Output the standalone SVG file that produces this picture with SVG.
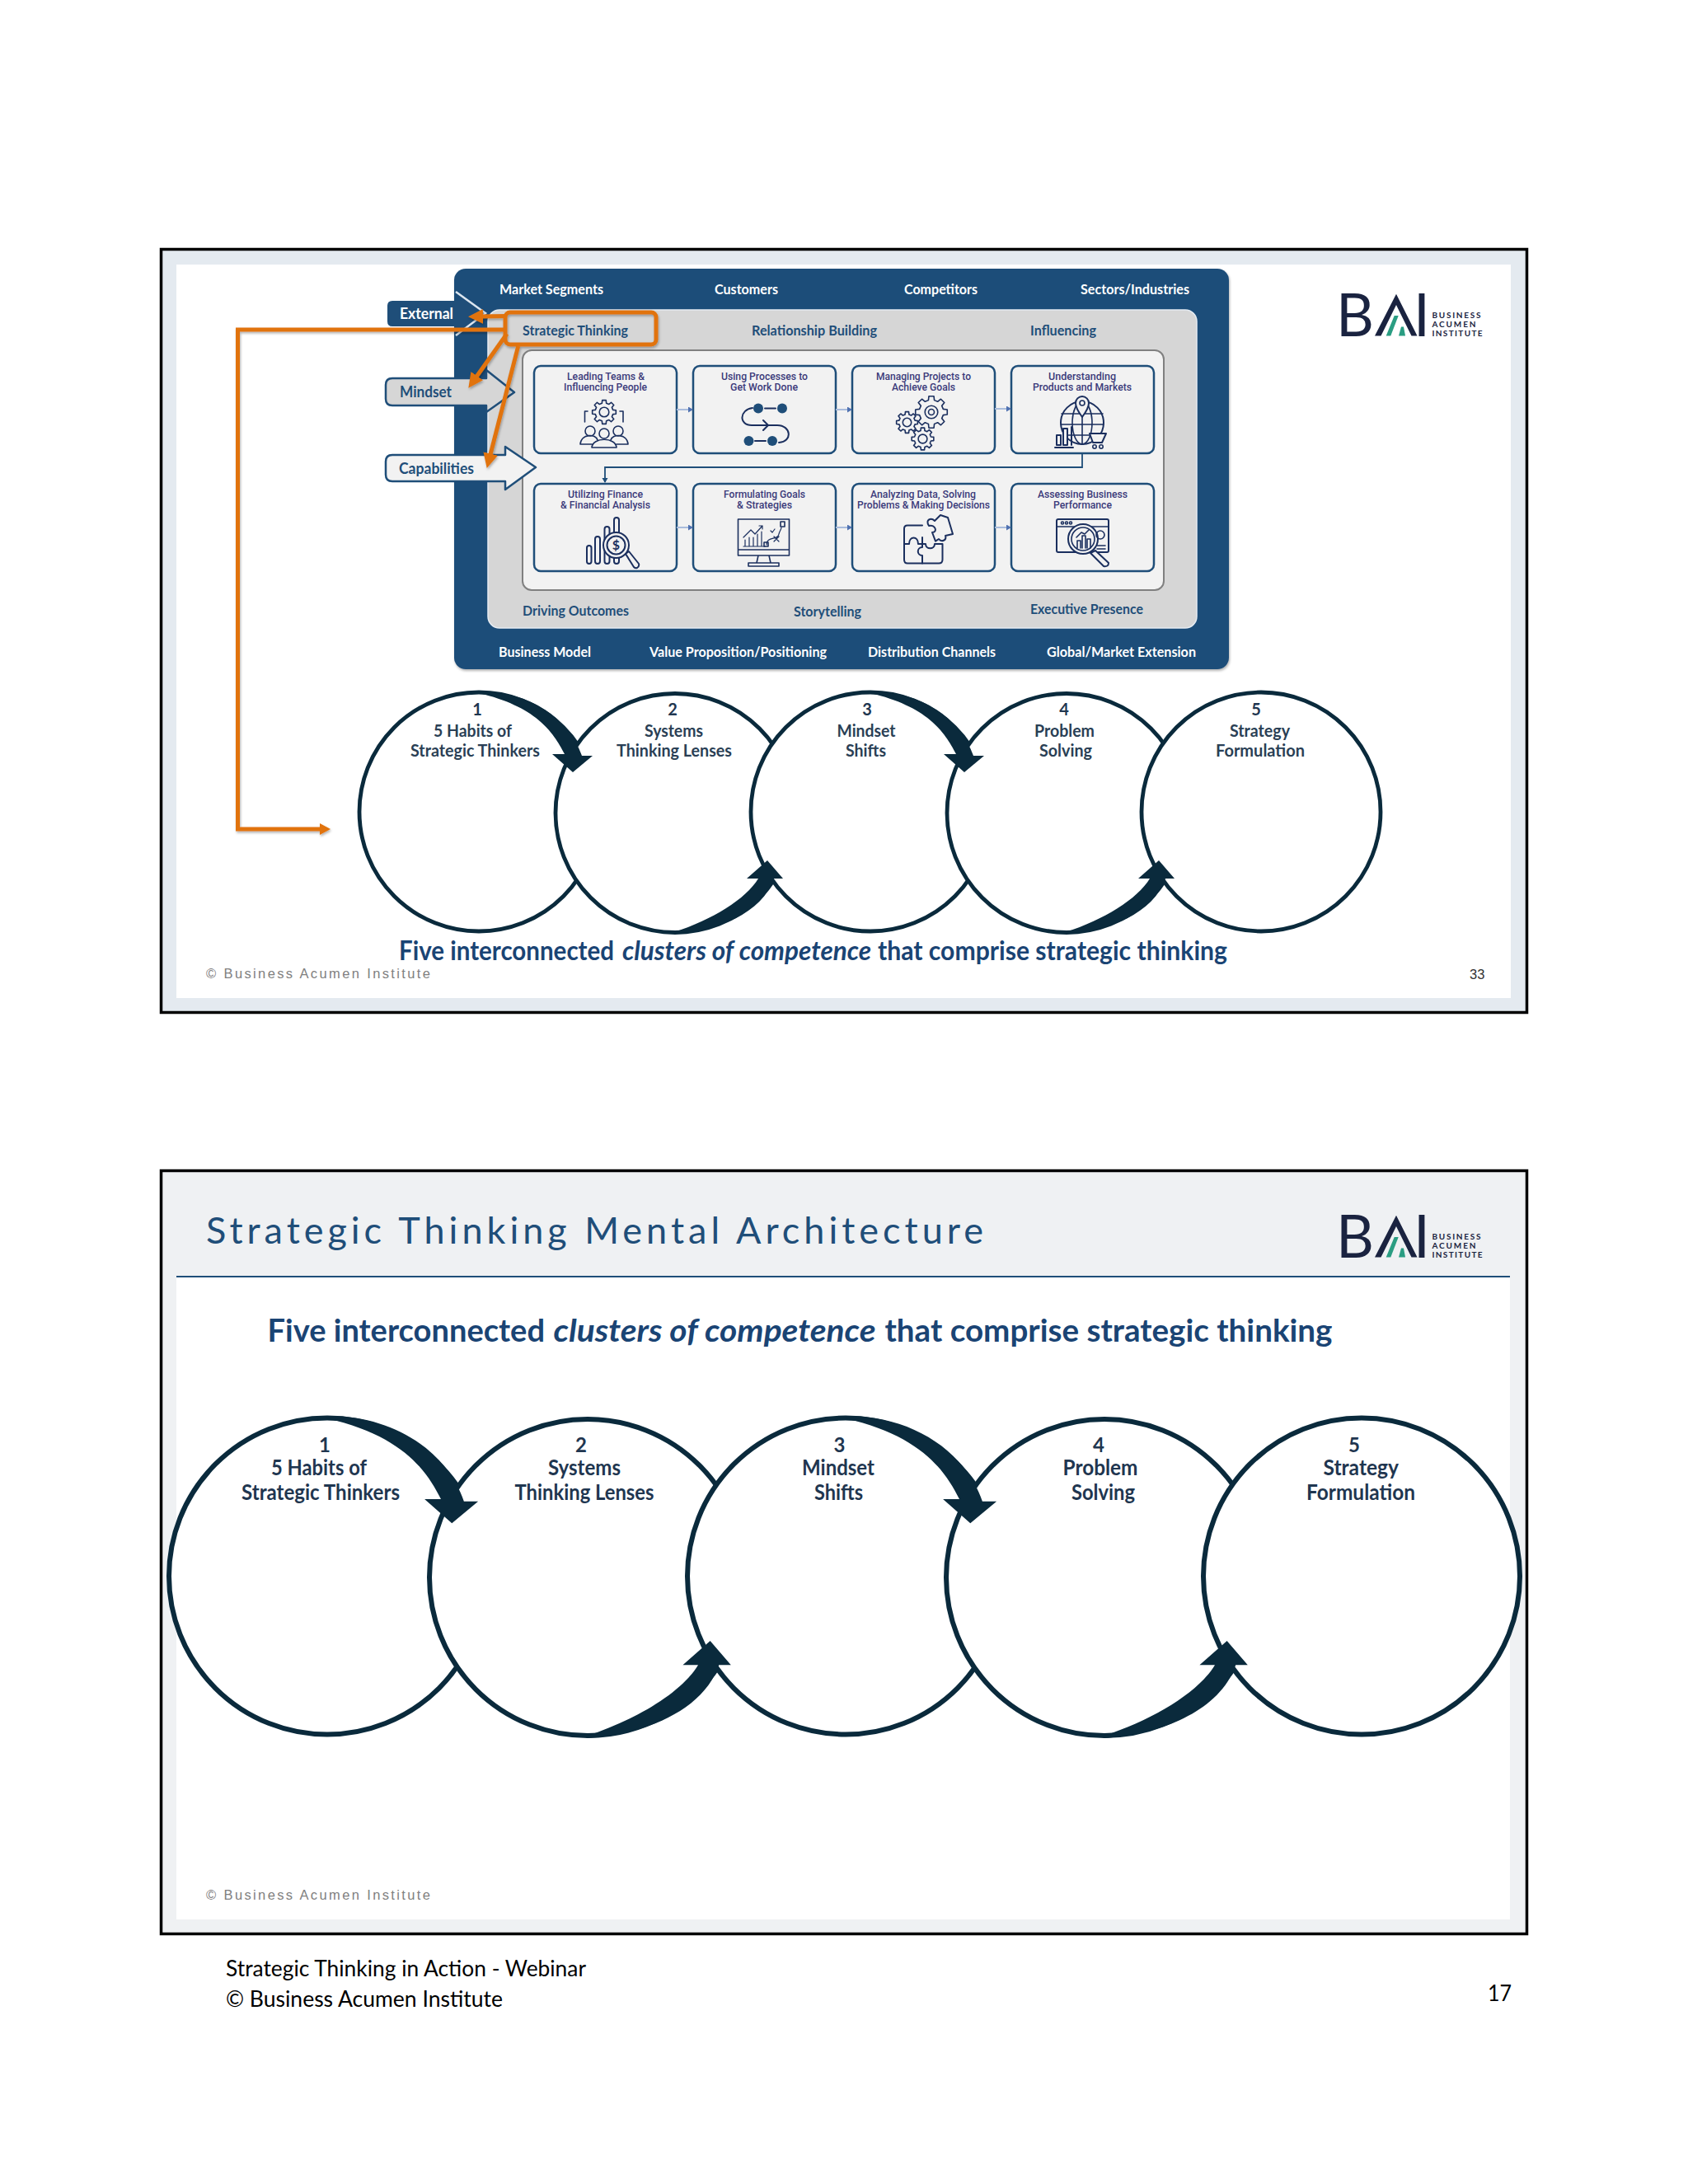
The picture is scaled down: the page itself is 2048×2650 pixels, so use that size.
<svg xmlns="http://www.w3.org/2000/svg" width="2048" height="2650" viewBox="0 0 2048 2650">
<style>
text{font-family:"Lato","Liberation Sans",sans-serif}
.slide{stroke:#000;stroke-width:3.5}
.wt{fill:#fff;font-size:17px;font-weight:700}
.bl{fill:#1f4e79;font-size:17px;font-weight:700}
.tag{font-size:18px;font-weight:700}
.card{fill:#f2f2f2;stroke:#1f4e79;stroke-width:2.5}
.ct{font-family:"Roboto","Liberation Sans",sans-serif;font-size:12px;font-weight:500;fill:#3b3a7a}
.ic{fill:none;stroke:#1b2f5e;stroke-width:2;stroke-linecap:round;stroke-linejoin:round}
.sc{fill:none;stroke:#1b2f5e;stroke-width:1.6;stroke-linecap:round;stroke-linejoin:round}
.df{fill:#1f4e79}
.big{fill:#fff;stroke:#0a2a3c}
.n1{font-size:20px;font-weight:700;fill:#1f3650;text-anchor:middle}
.t1{font-size:20px;font-weight:700;fill:#2a3f55}
.n2{font-size:24px;font-weight:700;fill:#1f3650;text-anchor:middle}
.t2{font-size:26px;font-weight:700;fill:#1f3650}
.cap{font-weight:700;fill:#1a4474}
.foot{font-family:"Liberation Sans",Arial,sans-serif;font-size:16.5px;fill:#808080}
.pg{font-size:27px;fill:#000}
.or{fill:none;stroke:#e1730f;stroke-width:5}
.thin{fill:none;stroke:#a9bcdc;stroke-width:2}
.lk{fill:none;stroke:#1f4e79;stroke-width:1.8}
.cur{fill:#0a2a3c}
.lg{fill:#1a2340;font-size:10px;font-weight:700}
.lgb{fill:#1a2340;font-family:"Lato",sans-serif;font-size:71px;font-weight:400}
.lgm{fill:#1a2340}
.lgg{fill:#2a9d82}
</style>
<defs>
<marker id="mo" markerUnits="userSpaceOnUse" markerWidth="20" markerHeight="20" refX="6" refY="9" orient="auto"><path d="M0,0 L18,9 L0,18 Z" fill="#e1730f"/></marker>
<marker id="ms" markerUnits="userSpaceOnUse" markerWidth="16" markerHeight="16" refX="3" refY="7" orient="auto"><path d="M0,0 L13,7 L0,14 Z" fill="#e1730f"/></marker>
<marker id="mc" markerUnits="userSpaceOnUse" markerWidth="8" markerHeight="8" refX="5" refY="3.5" orient="auto"><path d="M0,0 L6,3.5 L0,7 Z" fill="#4f71b0"/></marker>
<marker id="ml" markerUnits="userSpaceOnUse" markerWidth="8" markerHeight="8" refX="5" refY="3.5" orient="auto"><path d="M0,0 L6,3.5 L0,7 Z" fill="#1f4e79"/></marker>
<filter id="sh" x="-5%" y="-5%" width="110%" height="110%"><feDropShadow dx="1" dy="2" stdDeviation="1.5" flood-color="#000" flood-opacity=".3"/></filter>
<path id="arrD" d="M0,-146 C59,-147 109,-115 125,-68 L138,-68 L114,-48 L89,-70 L104,-70 C90,-98 68,-128 0,-144 Z"/>
<path id="arrU" d="M-1,147 C51,144 106,122 120,80 L131,80 L112,58 L87,80 L101,80 C86,105 45,130 -1,145 Z"/>
<g id="gear"><polygon vector-effect="non-scaling-stroke" points="7.37,-1.84 9.88,-1.56 9.88,1.56 7.37,1.84 6.51,3.91 8.09,5.88 5.88,8.09 3.91,6.51 1.84,7.37 1.56,9.88 -1.56,9.88 -1.84,7.37 -3.91,6.51 -5.88,8.09 -8.09,5.88 -6.51,3.91 -7.37,1.84 -9.88,1.56 -9.88,-1.56 -7.37,-1.84 -6.51,-3.91 -8.09,-5.88 -5.88,-8.09 -3.91,-6.51 -1.84,-7.37 -1.56,-9.88 1.56,-9.88 1.84,-7.37 3.91,-6.51 5.88,-8.09 8.09,-5.88 6.51,-3.91"/><circle vector-effect="non-scaling-stroke" r="4"/></g>
</defs>

<rect width="2048" height="2650" fill="#fff"/>

<g id="slide-33">
<rect class="slide" x="195.5" y="302.5" width="1657" height="926" fill="#e4eaf0"/>
<rect x="214" y="321" width="1619" height="890" fill="#fff"/>
</g>

<g id="panel-external"><rect x="551" y="326" width="940" height="486" rx="14" fill="#1f4e79" filter="url(#sh)"/>
<text class="wt" x="606" y="357" textLength="126" lengthAdjust="spacingAndGlyphs">Market Segments</text>
<text class="wt" x="867" y="357" textLength="77" lengthAdjust="spacingAndGlyphs">Customers</text>
<text class="wt" x="1097" y="357" textLength="89" lengthAdjust="spacingAndGlyphs">Competitors</text>
<text class="wt" x="1311" y="357" textLength="132" lengthAdjust="spacingAndGlyphs">Sectors/Industries</text>
<text class="wt" x="605" y="797" textLength="112" lengthAdjust="spacingAndGlyphs">Business Model</text>
<text class="wt" x="788" y="797" textLength="215" lengthAdjust="spacingAndGlyphs">Value Proposition/Positioning</text>
<text class="wt" x="1053" y="797" textLength="155" lengthAdjust="spacingAndGlyphs">Distribution Channels</text>
<text class="wt" x="1270" y="797" textLength="181" lengthAdjust="spacingAndGlyphs">Global/Market Extension</text>
</g>

<g id="panel-mindset"><rect x="592" y="376" width="860" height="386" rx="14" fill="#d6d6d6" stroke="#e6ecf2" stroke-width="1.5"/>
<text class="bl" x="634" y="407" textLength="128" lengthAdjust="spacingAndGlyphs">Strategic Thinking</text>
<text class="bl" x="912" y="407" textLength="152" lengthAdjust="spacingAndGlyphs">Relationship Building</text>
<text class="bl" x="1250" y="407" textLength="80" lengthAdjust="spacingAndGlyphs">Influencing</text>
<text class="bl" x="634" y="747" textLength="129" lengthAdjust="spacingAndGlyphs">Driving Outcomes</text>
<text class="bl" x="963" y="748" textLength="82" lengthAdjust="spacingAndGlyphs">Storytelling</text>
<text class="bl" x="1250" y="745" textLength="137" lengthAdjust="spacingAndGlyphs">Executive Presence</text>
</g>

<g id="panel-capabilities"><rect x="634" y="425" width="778" height="291" rx="11" fill="#f2f2f2" stroke="#808080" stroke-width="2"/></g>

<g id="tag-external"><path d="M552,354 L589,380 L553,407 L560,396 H476 Q470,396 470,390 V371 Q470,365 476,365 H560 Z" fill="#1f4e79"/>
<path d="M553,354 L589,380 L553,407" fill="none" stroke="#dce6f0" stroke-width="2.5"/>
<text class="tag" x="485" y="387" fill="#fff" textLength="65" lengthAdjust="spacingAndGlyphs">External</text></g>

<g id="tag-mindset"><path d="M590,449 L624,476 L590,500 L590,492 H476 Q468,492 468,484 V467 Q468,459 476,459 H590 Z" fill="#d6d6d6" stroke="#1f4e79" stroke-width="2.5" stroke-linejoin="round"/>
<text class="tag" x="485" y="482" fill="#1f4e79" textLength="63" lengthAdjust="spacingAndGlyphs">Mindset</text></g>

<g id="tag-capabilities"><path d="M613,542 L650,567 L613,594 L613,584 H476 Q468,584 468,576 V560 Q468,552 476,552 H613 Z" fill="#f2f2f2" stroke="#1f4e79" stroke-width="2.5" stroke-linejoin="round"/>
<text class="tag" x="484" y="575" fill="#1f4e79" textLength="91" lengthAdjust="spacingAndGlyphs">Capabilities</text></g>

<g id="card-leading"><rect class="card" x="648" y="444" width="173" height="106" rx="8"/>
<text class="ct" x="688" y="460.5" textLength="94" lengthAdjust="spacingAndGlyphs">Leading Teams &amp;</text>
<text class="ct" x="684" y="473.5" textLength="101" lengthAdjust="spacingAndGlyphs">Influencing People</text>
<use href="#gear" class="sc" transform="translate(733,500) scale(1.45)"/>
<path class="sc" d="M713,499 H709.5 V512 M752,499 H756 V512"/>
<circle class="sc" cx="716" cy="523" r="6"/><circle class="sc" cx="733" cy="526" r="6"/><circle class="sc" cx="750" cy="523" r="6"/>
<path class="sc" d="M704,539 C705,526 723,526 725,534 M762,539 C761,526 743,526 741,534 M704,539 H718 M748,539 H762 M718,543 C719,530 747,530 748,543 Z"/></g>

<g id="card-processes"><rect class="card" x="841" y="444" width="173" height="106" rx="8"/>
<text class="ct" x="875" y="460.5" textLength="105" lengthAdjust="spacingAndGlyphs">Using Processes to</text>
<text class="ct" x="886" y="473.5" textLength="82" lengthAdjust="spacingAndGlyphs">Get Work Done</text>
<circle class="df" cx="920" cy="495.5" r="6"/><circle class="df" cx="949" cy="495.5" r="6"/><circle class="df" cx="908.5" cy="535" r="6"/><circle class="df" cx="937" cy="535" r="6"/>
<path class="ic" d="M928,495.5 H941 M916,535 H929 M913,495 C897,497 896,516 912,516 H943 C960,516 962,536 945,537 M926,510 L932,516 L926,522"/></g>

<g id="card-projects"><rect class="card" x="1034" y="444" width="173" height="106" rx="8"/>
<text class="ct" x="1063" y="460.5" textLength="115" lengthAdjust="spacingAndGlyphs">Managing Projects to</text>
<text class="ct" x="1082" y="473.5" textLength="77" lengthAdjust="spacingAndGlyphs">Achieve Goals</text>
<use href="#gear" class="sc" transform="translate(1130,500) scale(1.95)"/><circle class="sc" cx="1130" cy="500" r="3.5"/>
<use href="#gear" class="sc" transform="translate(1100.5,512.5) scale(1.3)"/>
<use href="#gear" class="sc" transform="translate(1119.5,532.5) scale(1.35)"/></g>

<g id="card-products"><rect class="card" x="1227" y="444" width="173" height="106" rx="8"/>
<text class="ct" x="1272" y="460.5" textLength="82" lengthAdjust="spacingAndGlyphs">Understanding</text>
<text class="ct" x="1253" y="473.5" textLength="120" lengthAdjust="spacingAndGlyphs">Products and Markets</text>
<circle class="ic" cx="1313" cy="513" r="26"/><ellipse class="sc" cx="1313" cy="513" rx="12" ry="26"/>
<path class="sc" d="M1313,487 V539 M1288,502 H1338 M1287,515 H1339 M1292,528 H1334"/>
<path class="ic" style="fill:#f2f2f2" d="M1313,506 C1307,498 1305,494 1305,489 A8,8 0 0 1 1321,489 C1321,494 1319,498 1313,506 Z"/><circle class="sc" cx="1313" cy="489" r="3"/>
<path class="ic" style="fill:#f2f2f2" d="M1282,528 h5 v12 h-5 Z M1290,520 h5 v20 h-5 Z"/><path class="ic" d="M1280,543 H1302 M1300,518 V540"/>
<path class="ic" style="fill:#f2f2f2" d="M1322,526 H1342 L1337,537 H1326 Z"/><circle class="sc" cx="1328" cy="542" r="2.2"/><circle class="sc" cx="1336" cy="542" r="2.2"/></g>

<g id="card-finance"><rect class="card" x="648" y="587" width="173" height="106" rx="8"/>
<text class="ct" x="689" y="604" textLength="91" lengthAdjust="spacingAndGlyphs">Utilizing Finance</text>
<text class="ct" x="680" y="617" textLength="109" lengthAdjust="spacingAndGlyphs">&amp; Financial Analysis</text>
<g class="ic"><rect x="712" y="662" width="5.5" height="22" rx="2.7"/><rect x="722" y="651" width="6" height="33" rx="3"/><rect x="733.5" y="639" width="6" height="45" rx="3"/><rect x="745" y="628" width="6" height="56" rx="3"/></g>
<circle class="ic" style="fill:#f2f2f2" cx="747.5" cy="661.5" r="15.5"/><circle class="ic" cx="747.5" cy="661.5" r="11"/>
<text x="747.5" y="667" text-anchor="middle" font-size="16" font-weight="700" fill="#1b2f5e">$</text>
<path class="ic" style="fill:#f2f2f2" d="M759,672 L763,669 L775,684 Q776,687 773,689 Q771,690 769,688 Z"/></g>

<g id="card-goals"><rect class="card" x="841" y="587" width="173" height="106" rx="8"/>
<text class="ct" x="878" y="604" textLength="99" lengthAdjust="spacingAndGlyphs">Formulating Goals</text>
<text class="ct" x="894" y="617" textLength="67" lengthAdjust="spacingAndGlyphs">&amp; Strategies</text>
<path class="sc" d="M895.5,630 H957.5 V674 H895.5 Z M895.5,667 H957.5 M920,674 L918,683 M933,674 L935,683 M908,683 H945 V687 H908 Z"/>
<path class="sc" style="stroke-width:1.2" d="M902,652 L911,643 L916,648 L925,638 M921,638 H925 V642 M902,663 H928 M904,655 V663 M909,652 V663 M914,652 V663 M919,648 V663 M924,645 V663 M930,661 C930,650 944,656 945,648 C946,644 948,642 948,640 M935,644 L937,646 L940,642 M939,651 L945,657 M945,651 L939,657"/>
<rect class="sc" x="947" y="633" width="5" height="6"/><rect class="sc" x="927" y="658" width="5" height="5"/></g>

<g id="card-analyzing"><rect class="card" x="1034" y="587" width="173" height="106" rx="8"/>
<text class="ct" x="1056" y="604" textLength="128" lengthAdjust="spacingAndGlyphs">Analyzing Data, Solving</text>
<text class="ct" x="1040" y="617" textLength="161" lengthAdjust="spacingAndGlyphs">Problems &amp; Making Decisions</text>
<path class="ic" d="M1119,637.5 H1101 Q1097,637.5 1097,641.5 V679 Q1097,683.5 1101,683.5 H1139 Q1143.5,683.5 1143.5,679 V660 H1134 C1134,667 1123,667 1123,660 H1119 V652"/>
<path class="ic" d="M1097,660 H1103 C1103,650 1114,650 1114,660 H1119 V664 C1112,664 1112,674 1119,674 V683.5"/>
<path class="ic" d="M1127,638 C1122,630 1130,628 1134,632 L1141,625 L1150,628 L1156,648 L1147,650 C1149,656 1142,658 1139,654 L1135,656.7 L1131,646 C1138,646 1135,636 1127,638 Z"/></g>

<g id="card-assessing"><rect class="card" x="1227" y="587" width="173" height="106" rx="8"/>
<text class="ct" x="1259" y="604" textLength="109" lengthAdjust="spacingAndGlyphs">Assessing Business</text>
<text class="ct" x="1278" y="617" textLength="71" lengthAdjust="spacingAndGlyphs">Performance</text>
<rect class="ic" x="1282" y="630" width="63" height="40" rx="2"/><path class="sc" d="M1282,639 H1345 M1331,662 H1341 M1331,666 H1341"/>
<circle class="sc" cx="1289" cy="634.5" r="1.5"/><circle class="sc" cx="1294" cy="634.5" r="1.5"/><circle class="sc" cx="1299" cy="634.5" r="1.5"/>
<circle class="ic" style="fill:#f2f2f2" cx="1314" cy="654" r="18"/><circle class="sc" cx="1314" cy="654" r="14"/>
<path class="sc" d="M1307,665 V656 H1311 V665 M1313,665 V650 H1317 V665 M1319,665 V654 H1323 V665 M1306,652 L1312,646 L1316,648 L1321,643"/>
<circle class="sc" cx="1335" cy="649" r="5"/>
<path class="ic" style="fill:#f2f2f2" d="M1323,671 L1329,668 L1345,683 Q1345,688 1339,687 Z"/></g>

<g id="connectors">
<path class="thin" marker-end="url(#mc)" d="M821,497 H840"/>
<path class="thin" marker-end="url(#mc)" d="M1014,497 H1033"/>
<path class="thin" marker-end="url(#mc)" d="M1207,496 H1226"/>
<path class="thin" marker-end="url(#mc)" d="M821,640 H840"/>
<path class="thin" marker-end="url(#mc)" d="M1014,640 H1033"/>
<path class="thin" marker-end="url(#mc)" d="M1207,640 H1226"/>
<path class="lk" marker-end="url(#ml)" d="M1313,550 V567 H734 V585"/>
</g>

<g id="connectors-orange" filter="url(#sh)">
<rect id="box-strategic" class="or" x="613" y="379" width="183" height="39" rx="6"/>
<path class="or" marker-end="url(#mo)" d="M615,383.5 L580,384"/>
<path class="or" marker-end="url(#mo)" d="M615,405 L575.3,461"/>
<path class="or" marker-end="url(#mo)" d="M628.7,420 L593.7,556.4"/>
<path class="or" marker-end="url(#ms)" d="M613,400 H288.5 V1006 H391"/>
</g>

<g id="slide1-circles" stroke-width="4.8">
<circle id="s1c1" class="big" cx="581" cy="985" r="145"/>
<circle id="s1c2" class="big" cx="819" cy="986.5" r="145"/>
<circle id="s1c3" class="big" cx="1056" cy="985" r="145"/>
<circle id="s1c4" class="big" cx="1294" cy="986.5" r="145"/>
<circle id="s1c5" class="big" cx="1530" cy="985" r="145"/>
</g>
<g id="slide1-curved-connectors">
<use href="#arrD" class="cur" transform="translate(581,985)"/>
<use href="#arrU" class="cur" transform="translate(819,986)"/>
<use href="#arrD" class="cur" transform="translate(1056,985)"/>
<use href="#arrU" class="cur" transform="translate(1294,986)"/>
</g>
<g id="slide1-labels">
<text class="n1" x="579" y="868">1</text><text class="t1" x="526" y="893.5" textLength="95" lengthAdjust="spacingAndGlyphs">5 Habits of</text><text class="t1" x="498" y="918" textLength="157" lengthAdjust="spacingAndGlyphs">Strategic Thinkers</text>
<text class="n1" x="816" y="868">2</text><text class="t1" x="782" y="893.5" textLength="71" lengthAdjust="spacingAndGlyphs">Systems</text><text class="t1" x="748" y="918" textLength="140" lengthAdjust="spacingAndGlyphs">Thinking Lenses</text>
<text class="n1" x="1052" y="868">3</text><text class="t1" x="1015.5" y="893.5" textLength="71" lengthAdjust="spacingAndGlyphs">Mindset</text><text class="t1" x="1026" y="918" textLength="49" lengthAdjust="spacingAndGlyphs">Shifts</text>
<text class="n1" x="1291" y="868">4</text><text class="t1" x="1255" y="893.5" textLength="73" lengthAdjust="spacingAndGlyphs">Problem</text><text class="t1" x="1261" y="918" textLength="64" lengthAdjust="spacingAndGlyphs">Solving</text>
<text class="n1" x="1524" y="868">5</text><text class="t1" x="1492" y="893.5" textLength="73" lengthAdjust="spacingAndGlyphs">Strategy</text><text class="t1" x="1475" y="918" textLength="108" lengthAdjust="spacingAndGlyphs">Formulation</text>
</g>
<text id="caption-1" class="cap" y="1164.5" font-size="33"><tspan x="484" textLength="261" lengthAdjust="spacingAndGlyphs">Five interconnected</tspan> <tspan x="755" font-style="italic" textLength="302" lengthAdjust="spacingAndGlyphs">clusters of competence</tspan> <tspan x="1065" textLength="424" lengthAdjust="spacingAndGlyphs">that comprise strategic thinking</tspan></text>
<text class="foot" x="250" y="1187" textLength="272" lengthAdjust="spacing">© Business Acumen Institute</text>
<text class="foot" x="1783" y="1188" style="fill:#333">33</text>

<g id="logo-1">
<text class="lgb" x="1621" y="407.5" textLength="46" lengthAdjust="spacingAndGlyphs">B</text>
<polygon class="lgm" points="1694,356.7 1719.5,407.5 1712.5,407.5 1694,370 1675.5,407.5 1668,407.5"/>
<polygon class="lgg" points="1691.7,383 1696.7,383 1687.3,407.5 1681.7,407.5"/>
<polygon class="lgg" points="1700,396.5 1703,396.5 1705,407.5 1697,407.5"/>
<text class="lgb" x="1715" y="407.5">I</text>
<text class="lg" x="1737.5" y="385.5" textLength="59" lengthAdjust="spacing">BUSINESS</text>
<text class="lg" x="1737.5" y="396.5" textLength="53" lengthAdjust="spacing">ACUMEN</text>
<text class="lg" x="1737.5" y="407.5" textLength="61" lengthAdjust="spacing">INSTITUTE</text>
</g>

<g id="slide-17">
<rect class="slide" x="195.5" y="1420.5" width="1657" height="926" fill="#eff1f3"/>
<rect x="214" y="1549" width="1618" height="780" fill="#fff"/>
<path d="M214,1549 H1832" stroke="#1f4e79" stroke-width="2"/>
<text x="250" y="1509" font-size="45" fill="#1f4e79" textLength="943" lengthAdjust="spacing">Strategic Thinking Mental Architecture</text>
</g>
<text id="caption-2" class="cap" y="1627.5" font-size="38"><tspan x="324.5" textLength="336.5" lengthAdjust="spacingAndGlyphs">Five interconnected</tspan> <tspan x="671.5" font-style="italic" textLength="391" lengthAdjust="spacingAndGlyphs">clusters of competence</tspan> <tspan x="1073.5" textLength="543" lengthAdjust="spacingAndGlyphs">that comprise strategic thinking</tspan></text>

<g id="slide2-circles" stroke-width="6">
<circle id="s2c1" class="big" cx="397" cy="1912.5" r="192"/>
<circle id="s2c2" class="big" cx="713" cy="1914" r="192"/>
<circle id="s2c3" class="big" cx="1026" cy="1912.5" r="192"/>
<circle id="s2c4" class="big" cx="1340" cy="1914" r="192"/>
<circle id="s2c5" class="big" cx="1652" cy="1912.5" r="192"/>
</g>
<g id="slide2-curved-connectors">
<use href="#arrD" class="cur" transform="translate(397,1912) scale(1.327)"/>
<use href="#arrU" class="cur" transform="translate(713,1914) scale(1.327)"/>
<use href="#arrD" class="cur" transform="translate(1026,1912) scale(1.327)"/>
<use href="#arrU" class="cur" transform="translate(1340,1914) scale(1.327)"/>
</g>
<g id="slide2-labels">
<text class="n2" x="394" y="1761.5">1</text><text class="t2" x="329" y="1790" textLength="116" lengthAdjust="spacingAndGlyphs">5 Habits of</text><text class="t2" x="293" y="1819.5" textLength="192" lengthAdjust="spacingAndGlyphs">Strategic Thinkers</text>
<text class="n2" x="705" y="1761.5">2</text><text class="t2" x="665" y="1790" textLength="88" lengthAdjust="spacingAndGlyphs">Systems</text><text class="t2" x="624.5" y="1819.5" textLength="169" lengthAdjust="spacingAndGlyphs">Thinking Lenses</text>
<text class="n2" x="1018.5" y="1761.5">3</text><text class="t2" x="973" y="1790" textLength="88" lengthAdjust="spacingAndGlyphs">Mindset</text><text class="t2" x="988" y="1819.5" textLength="59" lengthAdjust="spacingAndGlyphs">Shifts</text>
<text class="n2" x="1333" y="1761.5">4</text><text class="t2" x="1289.5" y="1790" textLength="91" lengthAdjust="spacingAndGlyphs">Problem</text><text class="t2" x="1300" y="1819.5" textLength="77" lengthAdjust="spacingAndGlyphs">Solving</text>
<text class="n2" x="1643" y="1761.5">5</text><text class="t2" x="1605.5" y="1790" textLength="91.5" lengthAdjust="spacingAndGlyphs">Strategy</text><text class="t2" x="1585" y="1819.5" textLength="132" lengthAdjust="spacingAndGlyphs">Formulation</text>
</g>
<text class="foot" x="250" y="2305" textLength="272" lengthAdjust="spacing">© Business Acumen Institute</text>

<g id="logo-2">
<text class="lgb" x="1621" y="1525.5" textLength="46" lengthAdjust="spacingAndGlyphs">B</text>
<polygon class="lgm" points="1694,1474.7 1719.5,1525.5 1712.5,1525.5 1694,1488 1675.5,1525.5 1668,1525.5"/>
<polygon class="lgg" points="1691.7,1501 1696.7,1501 1687.3,1525.5 1681.7,1525.5"/>
<polygon class="lgg" points="1700,1514.5 1703,1514.5 1705,1525.5 1697,1525.5"/>
<text class="lgb" x="1715" y="1525.5">I</text>
<text class="lg" x="1737.5" y="1503.5" textLength="59" lengthAdjust="spacing">BUSINESS</text>
<text class="lg" x="1737.5" y="1514.5" textLength="53" lengthAdjust="spacing">ACUMEN</text>
<text class="lg" x="1737.5" y="1525.5" textLength="61" lengthAdjust="spacing">INSTITUTE</text>
</g>

<g id="page-footer">
<text class="pg" x="274" y="2397.5" textLength="437" lengthAdjust="spacingAndGlyphs">Strategic Thinking in Action - Webinar</text>
<text class="pg" x="274" y="2434.5" textLength="336" lengthAdjust="spacingAndGlyphs">© Business Acumen Institute</text>
<text class="pg" x="1805" y="2428" textLength="29" lengthAdjust="spacingAndGlyphs">17</text>
</g>
</svg>
